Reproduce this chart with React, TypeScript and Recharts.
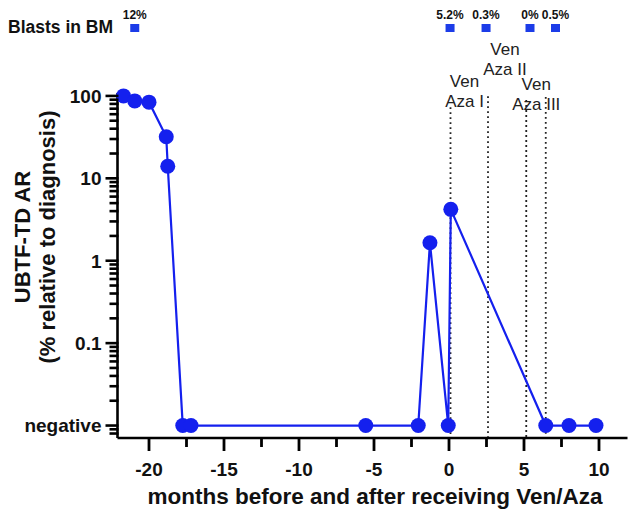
import React from 'react';
import { ComposedChart, Line, Scatter, XAxis, YAxis, ReferenceLine, Label } from 'recharts';

// ---- data ----
const months = [-21.7, -20.95, -20.0, -18.85, -18.75, -17.75, -17.2, -5.55, -2.05, -1.27, -0.05, 0.12, 6.45, 8.0, 9.8];
const NEGATIVE = 0.01; // "negative" is plotted at this level
const arValues = [100, 87, 84, 32, 14, NEGATIVE, NEGATIVE, NEGATIVE, NEGATIVE, 1.65, NEGATIVE, 4.2, NEGATIVE, NEGATIVE, NEGATIVE];

const blastMonths = [-20.95, 0.07, 2.47, 5.4, 7.1];
const blastLabels = ['12%', '5.2%', '0.3%', '0%', '0.5%'];

const treatmentMonths = [0.1, 2.6, 5.15, 6.45];
const treatmentTopValues = [73, 99, 89, 97];
const treatmentNames = [['Ven', 'Aza I'], ['Ven', 'Aza II'], ['Ven', 'Aza III']];

const xMajorTicks = [-20, -15, -10, -5, 0, 5, 10];
const xMinorTicks = [-17.5, -12.5, -7.5, -2.5, 2.5, 7.5];
const yMajorTicks = [0.01, 0.1, 1, 10, 100];
const yTickLabels = ['negative', '0.1', '1', '10', '100'];
const yMinorTicks = [0.008, 0.009,
  0.02, 0.03, 0.04, 0.05, 0.06, 0.07, 0.08, 0.09,
  0.2, 0.3, 0.4, 0.5, 0.6, 0.7, 0.8, 0.9,
  2, 3, 4, 5, 6, 7, 8, 9,
  20, 30, 40, 50, 60, 70, 80, 90];

const xDomain = [-22.1, 11.9];
const yDomain = [0.00706, 108.5];

const chartData = months.map((m, i) => ({ month: m, value: arValues[i] }));
const blastData = blastMonths.map((m, i) => ({ month: m, value: 100, label: blastLabels[i] }));

const BLUE = '#1420ee';
const SQUARE_BLUE = '#1c3ce8';
const FONT = '"Liberation Sans", Arial, Helvetica, sans-serif';

const yAll = [...yMajorTicks, ...yMinorTicks];
const xAll = [...xMajorTicks, ...xMinorTicks];

const YTick = (props: any) => {
  const { x, y, payload } = props;
  const idx = yMajorTicks.findIndex((t) => Math.abs(t - payload.value) <= t * 1e-6);
  const ax = x + 16; // tickMargin 4 + tickSize 12
  const len = idx >= 0 ? 12 : 8;
  return (
    <g>
      <line x1={ax - len} x2={ax + 1} y1={y} y2={y} stroke="#000" strokeWidth={idx >= 0 ? 2.6 : 2.6} />
      <text x={x} y={y} dy="0.36em" textAnchor="end" fontFamily={FONT} fontWeight="bold" fontSize={19} fill="#111">
        {idx >= 0 ? yTickLabels[idx] : ''}
      </text>
    </g>
  );
};

const XTick = (props: any) => {
  const { x, y, payload } = props;
  const idx = xMajorTicks.indexOf(payload.value);
  const ay = y - 17; // tickSize 13 + tickMargin 4
  const len = idx >= 0 ? 13 : 9;
  return (
    <g>
      <line x1={x} x2={x} y1={ay - 1} y2={ay + len} stroke="#000" strokeWidth={2.8} />
      <text x={x} y={ay + 38} textAnchor="middle" fontFamily={FONT} fontWeight="bold" fontSize={19} fill="#111">
        {idx >= 0 ? payload.value : ''}
      </text>
    </g>
  );
};

const BlastShape = (props: any) => {
  const { cx, payload } = props;
  if (cx == null) return <g />;
  return (
    <g>
      <rect x={cx - 4.5} y={24} width={9} height={8} fill={SQUARE_BLUE} />
      <text x={cx} y={19} textAnchor="middle" fontFamily={FONT} fontWeight="bold" fontSize={12} fill="#111">
        {payload && payload.label}
      </text>
    </g>
  );
};

const makeTreatmentLabel = (names: string[], dx: number, baseline: number) => (p: any) => {
  const vb = p.viewBox || {};
  const cx = (vb.x || 0) + dx;
  return (
    <g>
      <text x={cx} y={baseline} textAnchor="middle" fontFamily={FONT} fontSize={17} fill="#222">{names[0]}</text>
      <text x={cx} y={baseline + 20} textAnchor="middle" fontFamily={FONT} fontSize={17} fill="#222">{names[1]}</text>
    </g>
  );
};

const labelSpecs = [
  { dx: 14, baseline: 87 },
  { dx: 17, baseline: 55 },
  { dx: 10, baseline: 90 },
];

const YTitle = () => (
  <g>
    <text x={22} y={237} dy="0.35em" transform="rotate(-90 22 237)" textAnchor="middle" fontFamily={FONT} fontWeight="bold" fontSize={22} fill="#111">
      UBTF-TD AR
    </text>
    <text x={47} y={237} dy="0.35em" transform="rotate(-90 47 237)" textAnchor="middle" fontFamily={FONT} fontWeight="bold" fontSize={22} fill="#111">
      (% relative to diagnosis)
    </text>
    <text x={8} y={27} dy="0.35em" textAnchor="start" fontFamily={FONT} fontWeight="bold" fontSize={17.5} fill="#111">
      Blasts in BM
    </text>
  </g>
);

const XTitle = () => (
  <text x={375} y={504} textAnchor="middle" fontFamily={FONT} fontWeight="bold" fontSize={22.5} fill="#111">
    months before and after receiving Ven/Aza
  </text>
);

export default function App() {
  return (
    <div style={{ position: 'absolute', left: 0, top: 0, width: 629, height: 511, background: '#fff' }}>
      <ComposedChart width={629} height={511} margin={{ top: 93, right: 1.5, bottom: 33, left: 17.5 }}>
        <XAxis
          dataKey="month"
          type="number"
          domain={xDomain}
          ticks={xAll}
          interval={0}
          height={40}
          tickSize={13}
          tickMargin={4}
          tickLine={false}
          tick={<XTick />}
          axisLine={{ stroke: '#000', strokeWidth: 2.6 }}
        >
          <Label content={<XTitle />} />
        </XAxis>
        <YAxis
          dataKey="value"
          type="number"
          scale="log"
          domain={yDomain}
          ticks={yAll}
          interval={0}
          width={100}
          tickSize={12}
          tickMargin={4}
          tickLine={false}
          tick={<YTick />}
          axisLine={{ stroke: '#000', strokeWidth: 2.6 }}
        >
          <Label content={<YTitle />} />
        </YAxis>
        {treatmentMonths.map((m, i) => (
          <ReferenceLine
            key={'tl' + i}
            segment={[{ x: m, y: treatmentTopValues[i] }, { x: m, y: yDomain[0] }]}
            stroke="#222"
            strokeWidth={1.8}
            strokeDasharray="1.8 3.2"
            label={i < treatmentNames.length ? makeTreatmentLabel(treatmentNames[i], labelSpecs[i].dx, labelSpecs[i].baseline) : undefined}
          />
        ))}
        <Line
          data={chartData}
          dataKey="value"
          stroke={BLUE}
          strokeWidth={2.2}
          dot={{ r: 7.5, fill: BLUE, stroke: BLUE, strokeWidth: 0 }}
          activeDot={false}
          isAnimationActive={false}
        />
        <Scatter data={blastData} dataKey="value" shape={<BlastShape />} isAnimationActive={false} />
      </ComposedChart>
    </div>
  );
}
